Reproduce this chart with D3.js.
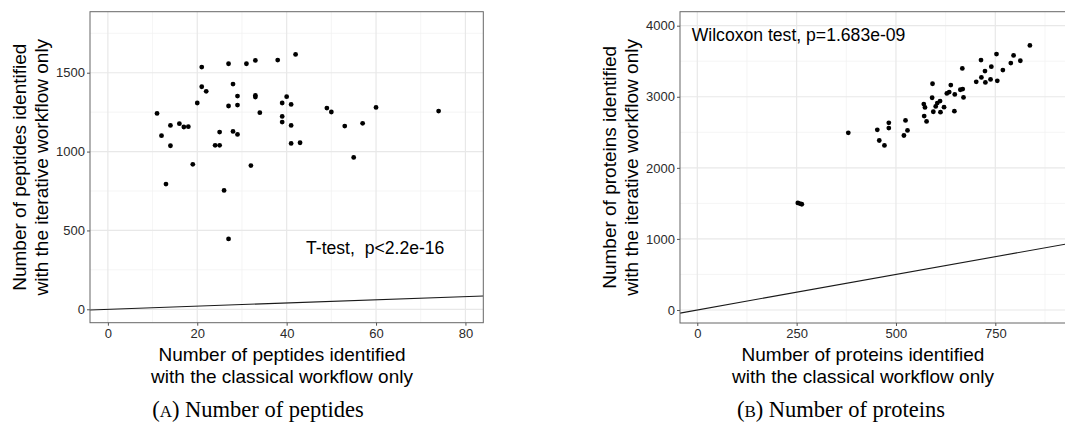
<!DOCTYPE html>
<html>
<head>
<meta charset="utf-8">
<script src="https://cdn.jsdelivr.net/npm/d3@7"></script>
<style>
  html, body { margin: 0; padding: 0; background: #fff; }
  svg { display: block; }
  .tick text { font-family: "Liberation Sans", Arial, sans-serif; }
</style>
</head>
<body>
<svg id="chart" width="1065" height="430"></svg>
<script>
// === Data: (A) peptides ===
const peptidesClassical = [11, 12, 13, 14, 14, 16, 17, 18, 19, 20, 21, 21, 22, 24, 25, 25, 26, 27, 27, 27,
  28, 28, 29, 29, 29, 31, 32, 33, 33, 33, 34, 38, 39, 39, 39, 40, 41, 41, 41, 42, 43, 49, 50, 53, 55, 57, 60, 74];
const peptidesIterative = [1242, 1101, 794, 1166, 1037, 1177, 1156, 1158, 919, 1308, 1536, 1411, 1382, 1040, 1040, 1124,
  754, 1557, 1289, 446, 1428, 1128, 1352, 1295, 1109, 1557, 911, 1578, 1356, 1346, 1247, 1580, 1308, 1223, 1187,
  1348, 1299, 1166, 1052, 1616, 1056, 1276, 1251, 1162, 963, 1179, 1280, 1257];

// === Data: (B) proteins ===
const proteinsClassical = [253, 258, 263, 380, 453, 458, 471, 482, 482, 520, 524, 529, 570, 573, 571, 577, 591, 592,
  594, 600, 604, 611, 612, 621, 628, 634, 638, 647, 648, 662, 668, 667, 670, 702, 714, 715, 724, 725, 738, 740,
  753, 755, 769, 789, 796, 813, 837];
const proteinsIterative = [1507, 1498, 1488, 2493, 2535, 2385, 2315, 2634, 2559, 2455, 2667, 2526, 2897, 2850, 2728,
  2653, 2986, 3183, 2789, 2864, 2911, 2939, 2784, 2854, 3047, 3066, 3164, 2798, 3033, 3099, 3108, 3399, 2991,
  3211, 3516, 3272, 3362, 3202, 3244, 3423, 3601, 3225, 3376, 3474, 3582, 3507, 3723];

// === Ticks ===
const peptideTicksX = [0, 20, 40, 60, 80];
const peptideTicksY = [0, 500, 1000, 1500];
const proteinTicksX = [0, 250, 500, 750];
const proteinTicksY = [0, 1000, 2000, 3000, 4000];

const FONT = '"Liberation Sans", Arial, Helvetica, sans-serif';

const svg = d3.select("#chart");

function renderScatterPanel(cfg) {
  const { id, box, xDomain, yDomain, xTicks, yTicks, xs, ys, yTitle, xTitle, note, caption } = cfg;

  const xScale = d3.scaleLinear().domain(xDomain).range([box.x0, box.x1]);
  const yScale = d3.scaleLinear().domain(yDomain).range([box.y1, box.y0]);

  svg.append("clipPath").attr("id", "clip-" + id)
    .append("rect")
    .attr("x", box.x0).attr("y", box.y0)
    .attr("width", box.x1 - box.x0).attr("height", box.y1 - box.y0);

  const panel = svg.append("g").attr("clip-path", `url(#clip-${id})`);

  // === minor grid (halfway between majors) ===
  const minorX = d3.pairs(xTicks).map(([a, b]) => (a + b) / 2);
  minorX.push(xTicks[xTicks.length - 1] + (xTicks[1] - xTicks[0]) / 2);
  const minorY = d3.pairs(yTicks).map(([a, b]) => (a + b) / 2);
  minorY.push(yTicks[yTicks.length - 1] + (yTicks[1] - yTicks[0]) / 2);

  panel.selectAll(".minor-x").data(minorX).enter().append("line")
    .attr("x1", d => xScale(d)).attr("x2", d => xScale(d))
    .attr("y1", box.y0).attr("y2", box.y1)
    .attr("stroke", "#f0f0f0").attr("stroke-width", 0.7);
  panel.selectAll(".minor-y").data(minorY).enter().append("line")
    .attr("y1", d => yScale(d)).attr("y2", d => yScale(d))
    .attr("x1", box.x0).attr("x2", box.x1)
    .attr("stroke", "#f0f0f0").attr("stroke-width", 0.7);

  // === major grid ===
  panel.selectAll(".major-x").data(xTicks).enter().append("line")
    .attr("x1", d => xScale(d)).attr("x2", d => xScale(d))
    .attr("y1", box.y0).attr("y2", box.y1)
    .attr("stroke", "#e8e8e8").attr("stroke-width", 1.2);
  panel.selectAll(".major-y").data(yTicks).enter().append("line")
    .attr("y1", d => yScale(d)).attr("y2", d => yScale(d))
    .attr("x1", box.x0).attr("x2", box.x1)
    .attr("stroke", "#e8e8e8").attr("stroke-width", 1.2);

  // === identity line y = x ===
  const diag = xScale.domain().map(v => [v, v]);
  panel.append("path")
    .attr("d", d3.line().x(d => xScale(d[0])).y(d => yScale(d[1]))(diag))
    .attr("fill", "none")
    .attr("stroke", "#1a1a1a")
    .attr("stroke-width", 1.1);

  // === points ===
  panel.selectAll(".pt").data(xs).enter().append("circle")
    .attr("cx", d => xScale(d))
    .attr("cy", (d, i) => yScale(ys[i]))
    .attr("r", 2.4)
    .attr("fill", "#000");

  // === border ===
  svg.append("rect")
    .attr("x", box.x0).attr("y", box.y0)
    .attr("width", box.x1 - box.x0).attr("height", box.y1 - box.y0)
    .attr("fill", "none").attr("stroke", "#666").attr("stroke-width", 1);

  // === axes ===
  const xAxis = svg.append("g")
    .attr("transform", `translate(0, ${box.y1})`)
    .call(d3.axisBottom(xScale).tickValues(xTicks).tickFormat(d3.format("d")).tickSize(3).tickPadding(3));
  const yAxis = svg.append("g")
    .attr("transform", `translate(${box.x0}, 0)`)
    .call(d3.axisLeft(yScale).tickValues(yTicks).tickFormat(d3.format("d")).tickSize(3).tickPadding(2));
  [xAxis, yAxis].forEach(ax => {
    ax.select(".domain").remove();
    ax.selectAll(".tick line").attr("stroke", "#555");
    ax.selectAll(".tick text").attr("fill", "#2a2a2a").attr("font-size", "13px").attr("font-family", FONT);
  });

  // === titles ===
  const yMid = (box.y0 + box.y1) / 2;
  yTitle.lines.forEach((t, i) => {
    svg.append("text")
      .attr("transform", `translate(${yTitle.x + i * 21.5}, ${yMid}) rotate(-90)`)
      .attr("text-anchor", "middle")
      .attr("font-family", FONT)
      .attr("font-size", "19px")
      .attr("fill", "#000")
      .text(t);
  });
  xTitle.lines.forEach((t, i) => {
    svg.append("text")
      .attr("x", xTitle.x)
      .attr("y", xTitle.y + i * 22)
      .attr("text-anchor", "middle")
      .attr("font-family", FONT)
      .attr("font-size", "19px")
      .attr("fill", "#000")
      .text(t);
  });

  // === test annotation ===
  svg.append("text")
    .attr("x", note.x).attr("y", note.y)
    .attr("font-family", FONT)
    .attr("font-size", "17.6px")
    .attr("fill", "#000")
    .style("white-space", "pre")
    .text(note.text);

  // === caption ===
  const cap = svg.append("text")
    .attr("x", caption.x).attr("y", caption.y)
    .attr("text-anchor", "middle")
    .attr("font-family", '"Liberation Serif", "Times New Roman", serif')
    .attr("font-size", "22.5px")
    .attr("fill", "#000");
  cap.append("tspan").text("(");
  cap.append("tspan").attr("font-size", "17px").text(caption.letter);
  cap.append("tspan").text(") " + caption.text);
}

renderScatterPanel({
  id: "peptides",
  box: { x0: 90, x1: 483.3, y0: 11.7, y1: 322.7 },
  xDomain: [-4, 84],
  yDomain: [-85, 1887],
  xTicks: peptideTicksX,
  yTicks: peptideTicksY,
  xs: peptidesClassical,
  ys: peptidesIterative,
  yTitle: { x: 26, lines: ["Number of peptides identified", "with the iterative workflow only"] },
  xTitle: { x: 282, y: 361, lines: ["Number of peptides identified", "with the classical workflow only"] },
  note: { x: 306, y: 254, text: "T-test,  p<2.2e-16" },
  caption: { x: 258, y: 417, letter: "A", text: "Number of peptides" }
});

renderScatterPanel({
  id: "proteins",
  box: { x0: 680, x1: 1072, y0: 11.7, y1: 323 },
  xDomain: [-43.5, 943],
  yDomain: [-183, 4197],
  xTicks: proteinTicksX,
  yTicks: proteinTicksY,
  xs: proteinsClassical,
  ys: proteinsIterative,
  yTitle: { x: 616, lines: ["Number of proteins identified", "with the iterative workflow only"] },
  xTitle: { x: 863, y: 361, lines: ["Number of proteins identified", "with the classical workflow only"] },
  note: { x: 691.7, y: 40.7, text: "Wilcoxon test, p=1.683e-09" },
  caption: { x: 841, y: 417, letter: "B", text: "Number of proteins" }
});
</script>
</body>
</html>
